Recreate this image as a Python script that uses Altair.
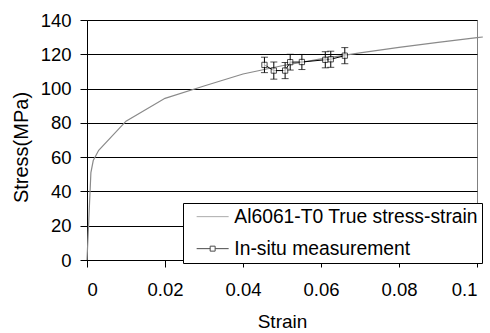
import altair as alt
import pandas as pd

# True stress-strain curve (Al6061-T0)
curve_strain = [0, 0.001, 0.0016, 0.003, 0.01, 0.02, 0.03, 0.04, 0.05, 0.06, 0.07, 0.08, 0.09, 0.1, 0.1015]
curve_stress = [0, 51, 58, 64, 81, 94.3, 101.5, 108.5, 113.3, 117.3, 120.8, 124, 127, 129.7, 130.1]

# In-situ measurements
meas_strain = [0.0455, 0.0479, 0.0508, 0.0521, 0.0551, 0.0611, 0.0625, 0.0661]
meas_stress = [113.8, 110.5, 110.5, 115.4, 115.5, 116.8, 117.1, 119.2]
meas_err = [4.5, 5.0, 4.7, 4.6, 4.4, 4.7, 4.7, 4.7]

series_names = ["Al6061-T0 True stress-strain", "In-situ measurement"]
series_colors = ["#8a8a8a", "black"]
series_symbols = [
    "M0,0H4",
    "M0,0H1.69M2.31,0H4M1.69,-0.31H2.31V0.31H1.69Z",
]

x_ticks = [0, 0.02, 0.04, 0.06, 0.08, 0.1]
y_ticks = [0, 20, 40, 60, 80, 100, 120, 140]

curve_df = pd.DataFrame({"strain": curve_strain, "stress": curve_stress})
meas_df = pd.DataFrame({"strain": meas_strain, "stress": meas_stress, "err": meas_err})
meas_df["lo"] = meas_df["stress"] - meas_df["err"]
meas_df["hi"] = meas_df["stress"] + meas_df["err"]
legend_df = pd.DataFrame({"strain": [-1, -1], "stress": [-10, -10], "series": series_names})

FONT = "Liberation Sans"

xscale = alt.Scale(domain=[0, 0.1], nice=False)
yscale = alt.Scale(domain=[0, 140], nice=False)

xaxis = alt.Axis(values=x_ticks, tickCount=20, format=".2~f", title="Strain", grid=False,
                 tickSize=7, labelPadding=13, labelFontSize=18.5, labelOverlap=False,
                 titleFontSize=19, titleBaseline="alphabetic", titleY=67)
yaxis = alt.Axis(values=y_ticks, tickCount=20, title="Stress(MPa)", grid=True,
                 tickSize=7, labelPadding=9, labelFontSize=18.5, labelOverlap=False,
                 titleFontSize=20, titleBaseline="alphabetic", titleX=-60, titleY=127)

X = alt.X("strain:Q", scale=xscale, axis=xaxis)
Y = alt.Y("stress:Q", scale=yscale, axis=yaxis)

curve = alt.Chart(curve_df).mark_line(color="#8a8a8a", strokeWidth=1.2, clip=False).encode(
    x=X, y=Y, order="strain:Q")

meas_line = alt.Chart(meas_df).mark_line(color="black", strokeWidth=1).encode(
    x="strain:Q", y="stress:Q")

err_rule = alt.Chart(meas_df).mark_rule(color="black", strokeWidth=1).encode(
    x="strain:Q", y="lo:Q", y2="hi:Q")
cap_lo = alt.Chart(meas_df).mark_tick(color="black", orient="horizontal", size=7, thickness=1).encode(
    x="strain:Q", y="lo:Q")
cap_hi = alt.Chart(meas_df).mark_tick(color="black", orient="horizontal", size=7, thickness=1).encode(
    x="strain:Q", y="hi:Q")

squares = alt.Chart(meas_df).mark_square(size=28, filled=True, fill="white", stroke="black", strokeWidth=1).encode(
    x="strain:Q", y="stress:Q")

legend_layer = alt.Chart(legend_df).mark_point(filled=False, clip=True, strokeWidth=1).encode(
    x="strain:Q", y="stress:Q",
    color=alt.Color("series:N", scale=alt.Scale(domain=series_names, range=series_colors),
                    legend=alt.Legend(orient="none", legendX=96, legendY=183, title=None,
                                      padding=4, symbolSize=256, symbolStrokeWidth=1,
                                      labelFontSize=19.3, labelFont=FONT, labelOffset=28,
                                      labelLimit=500,
                                      rowPadding=12, strokeColor="black", fillColor="white",
                                      labelColor="black")),
    shape=alt.Shape("series:N", scale=alt.Scale(domain=series_names, range=series_symbols)),
)

chart = alt.layer(curve, meas_line, err_rule, cap_lo, cap_hi, squares, legend_layer).properties(
    width=390, height=240,
    autosize=alt.AutoSizeParams(type="none"),
    padding={"left": 87, "top": 20, "right": 13, "bottom": 73},
).configure(font=FONT).configure_view(
    stroke="#808080", strokeWidth=1
).configure_axis(
    domainColor="black", tickColor="black", gridColor="black", gridWidth=1,
    labelColor="black", titleColor="black", labelFont=FONT, titleFont=FONT,
    titleFontWeight="normal", domainWidth=1, tickWidth=1
)

chart.save("out.html", embed_options={"renderer": "svg", "actions": False})
